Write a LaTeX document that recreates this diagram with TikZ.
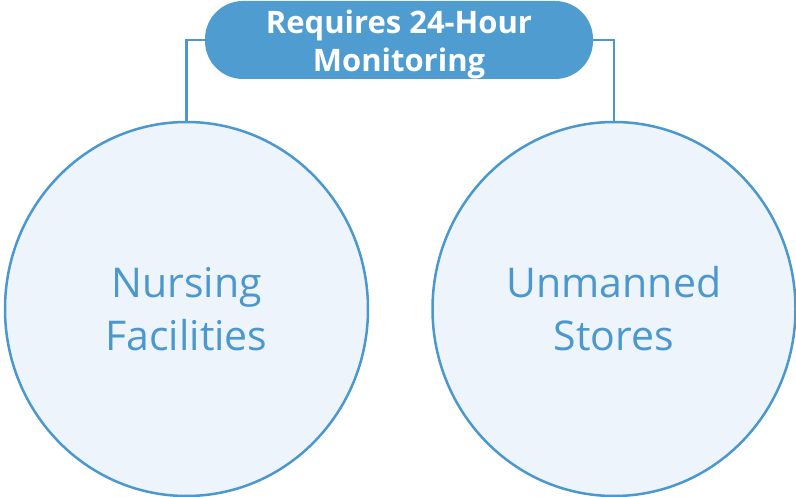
\documentclass[tikz,border=0pt]{standalone}
\usepackage{fontspec}
\setmainfont{Open Sans}
\usepackage{tikz}
\usetikzlibrary{shapes.geometric, positioning}

\definecolor{topblue}{HTML}{4F9CD1}
\definecolor{ringblue}{HTML}{4A98CD}
\definecolor{paleblue}{HTML}{EEF4FB}

\tikzset{
  headbox/.style={draw=none, fill=topblue, rounded corners=38pt, minimum width=388pt,
    minimum height=78pt},
  headtext/.style={align=center, text=white, font=\bfseries\fontsize{31}{38}\selectfont},
  bubble/.style={ellipse, draw=ringblue, line width=2.5pt, fill=paleblue, inner sep=0pt,
    minimum width=363pt, minimum height=374pt, align=center, text=ringblue,
    font=\fontsize{41}{53}\selectfont},
  link/.style={draw=ringblue, line width=2.2pt}
}

\begin{document}
\begin{tikzpicture}[x=1pt,y=1pt]
    \useasboundingbox (0,0) rectangle (796,-497);
		\node (need) [headbox] at (399,-40) {};
		\node (needtxt) [headtext, yshift=-4pt] at (need) {Requires 24-Hour\\Monitoring};
		\node (nurse) [bubble] at (186.5,-309) {Nursing\\Facilities};
		\node[right=62pt of nurse] (store) [bubble] {Unmanned\\Stores};

		\draw [link] (nurse.north) |- (need.west);
		\draw [link] (store.north) |- (need.east);
\end{tikzpicture}
\end{document}
